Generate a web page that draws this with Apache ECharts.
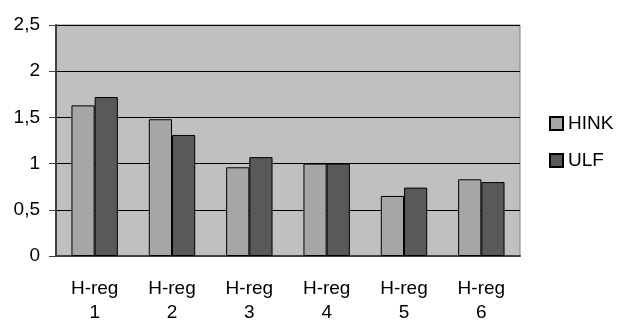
<!DOCTYPE html>
<html><head><meta charset="utf-8">
<script src="https://cdn.jsdelivr.net/npm/echarts@6/dist/echarts.min.js"></script>
<style>html,body{margin:0;padding:0;background:#fff}#c{width:619px;height:326px}</style>
</head><body><div id="c"></div>
<script>
const categories = ['H-reg\n1','H-reg\n2','H-reg\n3','H-reg\n4','H-reg\n5','H-reg\n6'];
const hink = [1.63, 1.48, 0.96, 1.0, 0.65, 0.83];
const ulf = [1.72, 1.31, 1.07, 1.0, 0.74, 0.80];
const chart = echarts.init(document.getElementById('c'), null, {renderer:'canvas'});
const font = '"Liberation Sans", Arial, sans-serif';
chart.setOption({
  animation:false,
  backgroundColor:'#ffffff',
  grid:{left:56, right:99, top:25, bottom:70, show:true, backgroundColor:'#c0c0c0', borderColor:'#808080', borderWidth:1},
  legend:{orient:'vertical', left:544, top:109, padding:5, itemGap:18, itemWidth:13, itemHeight:13, icon:'rect',
    textStyle:{fontFamily:font, fontSize:19, color:'#000', padding:[0,0,0,0]},
    data:['HINK','ULF']},
  xAxis:{type:'category', data:categories,
    axisLine:{lineStyle:{color:'#404040', width:2}},
    axisTick:{show:false},
    axisLabel:{fontFamily:font, fontSize:19, color:'#000', margin:21, lineHeight:24, interval:0}},
  yAxis:{type:'value', min:0, max:2.5, interval:0.5,
    axisLine:{show:true, lineStyle:{color:'#404040', width:2}},
    axisTick:{show:true, length:7, lineStyle:{color:'#404040'}},
    splitLine:{lineStyle:{color:'#000', width:1}},
    axisLabel:{fontFamily:font, fontSize:19, color:'#000', margin:16,
      formatter:v=>String(v).replace('.',',')}},
  series:[
    {name:'HINK', type:'bar', data:hink, barGap:'0%', barCategoryGap:'40%',
      itemStyle:{color:'#a6a6a6', borderColor:'#000', borderWidth:1}},
    {name:'ULF', type:'bar', data:ulf,
      itemStyle:{color:'#595959', borderColor:'#000', borderWidth:1}}
  ]
});
</script></body></html>
